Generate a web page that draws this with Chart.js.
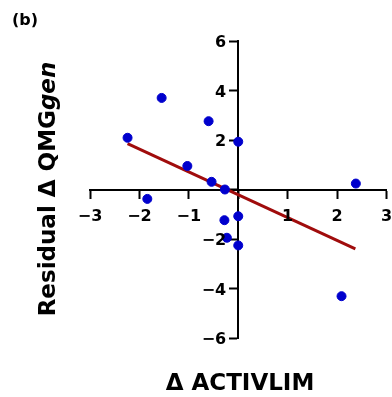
<!DOCTYPE html>
<html>
<head>
<meta charset="utf-8">
<script src="https://cdn.jsdelivr.net/npm/chart.js@4/dist/chart.umd.min.js"></script>
<style>
  body { margin: 0; background: #fff; }
  #wrap { width: 392px; height: 397px; position: relative; }
</style>
</head>
<body>
<div id="wrap"><canvas id="residChart" width="392" height="397"></canvas></div>
<script>
const deltaActivlim = [-2.24, -1.55, -0.60, 0.0, -1.03, -0.54, -0.27, -1.84, 2.38, -0.28, 0.0, -0.23, 0.0, 2.09];
const residualQmg = [2.09, 3.70, 2.76, 1.93, 0.95, 0.31, 0.0, -0.38, 0.24, -1.24, -1.08, -1.95, -2.26, -4.31];
const fitX = [-2.24, 2.37];
const fitY = [1.85, -2.40];
const xTicks = [-3, -2, -1, 0, 1, 2, 3];
const yTicks = [-6, -4, -2, 0, 2, 4, 6];

const fontFam = '"DejaVu Sans", sans-serif';

const fmt = v => v === 0 ? '' : (v < 0 ? '\u2212' + Math.abs(v) : String(v));

// panel letter, axis titles and tick labels. chart.js puts the labels of
// crossing axes in odd places, so they are drawn here from the scales
const textPlugin = {
  id: 'textPlugin',
  afterDraw(chart) {
    const c = chart.ctx;
    const xs = chart.scales.x, ys = chart.scales.y;
    const axisX = xs.getPixelForValue(0);
    const axisY = ys.getPixelForValue(0);
    c.save();
    c.fillStyle = '#000';
    c.textBaseline = 'alphabetic';

    c.font = 'bold 16px ' + fontFam;
    c.textAlign = 'right';
    yTicks.forEach(v => {
      if (v === 0) return;
      c.fillText(fmt(v), axisX - 12, ys.getPixelForValue(v) + 6);
    });
    c.textAlign = 'center';
    xTicks.forEach(v => {
      if (v === 0) return;
      c.fillText(fmt(v), xs.getPixelForValue(v), axisY + 31);
    });

    c.textAlign = 'left';
    c.fillText('(b)', 12, 25);

    c.font = 'bold 23px ' + fontFam;
    c.textAlign = 'center';
    c.fillText('\u0394 ACTIVLIM', 240, 390);

    // y title, rotated, with italic "gen"
    const part1 = 'Residual \u0394 QMG';
    const part2 = 'gen';
    c.font = 'bold 23px ' + fontFam;
    const w1 = c.measureText(part1).width;
    c.font = 'italic bold 23px ' + fontFam;
    const w2 = c.measureText(part2).width;
    c.translate(55, 189);
    c.rotate(-Math.PI / 2);
    c.textAlign = 'left';
    const start = -(w1 + w2) / 2;
    c.font = 'bold 23px ' + fontFam;
    c.fillText(part1, start, 0);
    c.font = 'italic bold 23px ' + fontFam;
    c.fillText(part2, start + w1, 0);
    c.restore();
  }
};

new Chart(document.getElementById('residChart'), {
  type: 'scatter',
  data: {
    datasets: [
      {
        label: 'Subjects',
        data: deltaActivlim.map((x, i) => ({ x: x, y: residualQmg[i] })),
        backgroundColor: 'rgb(0,0,205)',
        borderColor: 'rgb(0,0,205)',
        pointRadius: 4.5,
        pointHoverRadius: 4.5,
        order: 1
      },
      {
        label: 'Fit',
        type: 'line',
        data: fitX.map((x, i) => ({ x: x, y: fitY[i] })),
        borderColor: '#a00c0c',
        borderWidth: 3,
        pointRadius: 0,
        fill: false,
        order: 2
      }
    ]
  },
  options: {
    responsive: false,
    animation: false,
    layout: { padding: { left: 90, right: 5, top: 41, bottom: 59 } },
    plugins: {
      legend: { display: false },
      tooltip: { enabled: false }
    },
    scales: {
      x: {
        type: 'linear',
        position: { y: 0 },
        min: -3,
        max: 3,
        afterBuildTicks: s => { s.ticks = xTicks.map(v => ({ value: v })); },
        grid: { drawOnChartArea: false, drawTicks: true, tickLength: 8, tickWidth: 2, tickColor: '#000' },
        border: { display: true, color: '#000', width: 2 },
        ticks: { display: false }
      },
      y: {
        type: 'linear',
        position: { x: 0 },
        min: -6,
        max: 6,
        afterBuildTicks: s => { s.ticks = yTicks.map(v => ({ value: v })); },
        grid: { drawOnChartArea: false, drawTicks: true, tickLength: 8, tickWidth: 2, tickColor: '#000' },
        border: { display: true, color: '#000', width: 2 },
        ticks: { display: false }
      }
    }
  },
  plugins: [textPlugin]
});
</script>
</body>
</html>
